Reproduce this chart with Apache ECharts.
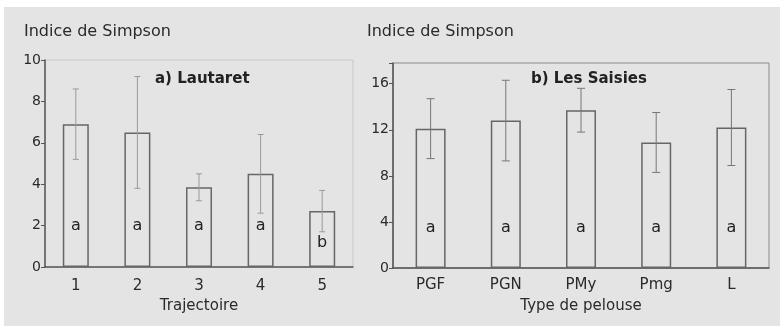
<!DOCTYPE html>
<html>
<head>
<meta charset="utf-8">
<script src="https://cdn.jsdelivr.net/npm/echarts@6/dist/echarts.min.js"></script>
<style>
    html, body { margin:0; padding:0; background:#fff; }
    #bg { position:absolute; left:4px; top:7px; width:776px; height:319px; background:#e4e4e4; }
    #main { position:absolute; left:0; top:0; width:780px; height:326px; }
</style>
</head>
<body>
<div id="bg"></div>
<div id="main"></div>
<script>
// a) Lautaret
var trajCats = ['1', '2', '3', '4', '5'];
var trajMean = [6.9, 6.5, 3.85, 4.5, 2.7];
var trajSd = [1.7, 2.7, 0.65, 1.9, 1.0];
var trajLetters = ['a', 'a', 'a', 'a', 'b'];
var trajLetterY = [2, 2, 2, 2, 1.15];

// b) Les Saisies
var pelCats = ['PGF', 'PGN', 'PMy', 'Pmg', 'L'];
var pelMean = [12.1, 12.8, 13.7, 10.9, 12.2];
var pelSd = [2.6, 3.5, 1.9, 2.6, 3.3];
var pelLetters = ['a', 'a', 'a', 'a', 'a'];
var pelLetterY = [3.5, 3.5, 3.5, 3.5, 3.5];

var FONT = 'DejaVu Sans';
var myChart = echarts.init(document.getElementById('main'));

function errData(mean, sd) {
    return mean.map(function (m, i) { return [i, m - sd[i], m + sd[i]]; });
}
function letterData(ys, letters) {
    return ys.map(function (y, i) { return [i, y, letters[i]]; });
}
// barre d'erreur
function errRender(cap, color) {
    return function (params, api) {
        var lo = api.coord([api.value(0), api.value(1)]);
        var hi = api.coord([api.value(0), api.value(2)]);
        var st = { stroke: color, lineWidth: 1 };
        return {
            type: 'group',
            children: [
                { type: 'line', shape: { x1: hi[0], y1: hi[1], x2: lo[0], y2: lo[1] }, style: st },
                { type: 'line', shape: { x1: hi[0] - cap, y1: hi[1], x2: hi[0] + cap, y2: hi[1] }, style: st },
                { type: 'line', shape: { x1: lo[0] - cap, y1: lo[1], x2: lo[0] + cap, y2: lo[1] }, style: st }
            ]
        };
    };
}
function letterRender(params, api) {
    var p = api.coord([api.value(0), api.value(1)]);
    return {
        type: 'text',
        x: p[0], y: p[1],
        style: {
            text: String(api.value(2)), fill: '#222',
            font: '16px "' + FONT + '"', align: 'center', verticalAlign: 'middle'
        }
    };
}

var axisLineStyle = { color: '#555', width: 1.5 };

option = {
    textStyle: { fontFamily: FONT },
    animation: false,
    title: [
        { text: 'a) Lautaret', left: 150, top: 67,
          textStyle: { fontFamily: FONT, fontSize: 15, fontWeight: 'bold', color: '#222' } },
        { text: 'b) Les Saisies', left: 526, top: 67,
          textStyle: { fontFamily: FONT, fontSize: 15, fontWeight: 'bold', color: '#222' } }
    ],
    graphic: [
        { type: 'text', left: 24, top: 24,
          style: { text: 'Indice de Simpson', fill: '#2a2a2a', font: '16px "' + FONT + '"' } },
        { type: 'text', left: 367, top: 24,
          style: { text: 'Indice de Simpson', fill: '#2a2a2a', font: '16px "' + FONT + '"' } }
    ],
    grid: [
        { left: 45, top: 60, width: 308, height: 207, show: true, borderColor: '#c9c9c9', borderWidth: 1 },
        { left: 393, top: 63, width: 376, height: 205, show: true, borderColor: '#8a8a8a', borderWidth: 1 }
    ],
    xAxis: [
        { type: 'category', gridIndex: 0, data: trajCats,
          name: 'Trajectoire', nameLocation: 'middle', nameGap: 32,
          nameTextStyle: { fontSize: 15, color: '#2a2a2a' },
          axisLine: { lineStyle: axisLineStyle },
          axisTick: { length: 3, lineStyle: { color: '#aaa' } },
          axisLabel: { fontSize: 15, color: '#2a2a2a', margin: 12 } },
        { type: 'category', gridIndex: 1, data: pelCats,
          name: 'Type de pelouse', nameLocation: 'middle', nameGap: 31,
          nameTextStyle: { fontSize: 15, color: '#2a2a2a' },
          axisLine: { lineStyle: axisLineStyle },
          axisTick: { length: 3, lineStyle: { color: '#aaa' } },
          axisLabel: { fontSize: 15, color: '#2a2a2a', margin: 10 } }
    ],
    yAxis: [
        { type: 'value', gridIndex: 0, min: 0, max: 10, interval: 2,
          splitLine: { show: false },
          axisLine: { show: true, lineStyle: axisLineStyle },
          axisTick: { show: true, length: 4, lineStyle: { color: '#555' } },
          axisLabel: { fontSize: 14, color: '#2a2a2a', margin: 4 } },
        { type: 'value', gridIndex: 1, min: 0, max: 17.8, interval: 4,
          splitLine: { show: false },
          axisLine: { show: true, lineStyle: axisLineStyle },
          axisTick: { show: true, length: 4, lineStyle: { color: '#555' } },
          axisLabel: { fontSize: 14, color: '#2a2a2a', margin: 4,
                       formatter: function (v) { return v % 4 === 0 ? v : ''; } } }
    ],
    series: [
        { type: 'bar', xAxisIndex: 0, yAxisIndex: 0, data: trajMean, barWidth: 26,
          itemStyle: { color: 'rgba(0,0,0,0)', borderColor: '#666', borderWidth: 1.5 } },
        { type: 'custom', xAxisIndex: 0, yAxisIndex: 0, data: errData(trajMean, trajSd),
          renderItem: errRender(3, '#9a9a9a'), z: 3 },
        { type: 'custom', xAxisIndex: 0, yAxisIndex: 0, data: letterData(trajLetterY, trajLetters),
          renderItem: letterRender, z: 4 },
        { type: 'bar', xAxisIndex: 1, yAxisIndex: 1, data: pelMean, barWidth: 30,
          itemStyle: { color: 'rgba(0,0,0,0)', borderColor: '#666', borderWidth: 1.5 } },
        { type: 'custom', xAxisIndex: 1, yAxisIndex: 1, data: errData(pelMean, pelSd),
          renderItem: errRender(4, '#777'), z: 3 },
        { type: 'custom', xAxisIndex: 1, yAxisIndex: 1, data: letterData(pelLetterY, pelLetters),
          renderItem: letterRender, z: 4 }
    ]
};
myChart.setOption(option);
</script>
</body>
</html>
